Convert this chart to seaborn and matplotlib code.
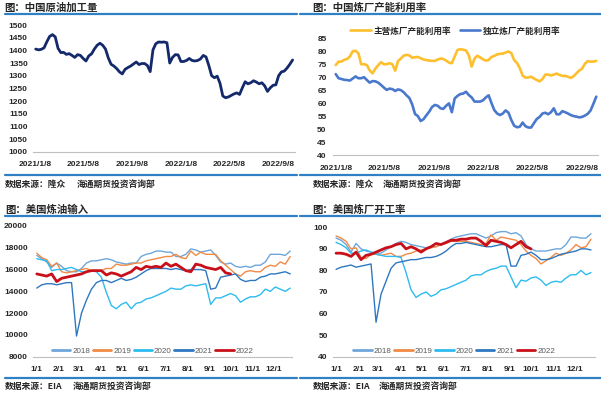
import seaborn as sns
import matplotlib.pyplot as plt
from matplotlib.lines import Line2D
import pandas as pd

# ---- China crude throughput (weekly, from 2021-01-08)
cn_start = "2021-01-08"
cn_runs = [1405, 1402, 1404, 1410, 1434, 1455, 1462, 1453, 1408, 1391,
           1392, 1384, 1387, 1380, 1372, 1383, 1380, 1368, 1358, 1378,
           1386, 1405, 1420, 1428, 1420, 1405, 1370, 1345, 1338, 1328,
           1315, 1307, 1325, 1332, 1338, 1346, 1354, 1344, 1348, 1348,
           1340, 1316, 1402, 1426, 1433, 1432, 1433, 1430, 1350, 1372,
           1383, 1382, 1356, 1356, 1360, 1368, 1360, 1358, 1360, 1366,
           1380, 1374, 1340, 1300, 1292, 1298, 1270, 1220, 1213, 1216,
           1222, 1228, 1232, 1226, 1252, 1276, 1268, 1272, 1280, 1275,
           1268, 1272, 1260, 1238, 1252, 1262, 1264, 1300, 1315, 1318,
           1330, 1345, 1362]

# ---- China refinery utilisation
main_util = [74.7, 76, 76, 76.7, 77, 78, 80, 80.2, 79.2, 75,
             75, 74.7, 72.6, 71.5, 73.3, 74.6, 75.8, 75, 75, 75.4,
             75, 72.5, 76.2, 77.2, 78.3, 78.6, 78.4, 77.5, 77.7, 77.8,
             77.3, 76.8, 76.6, 76.4, 76.3, 76.3, 76.8, 77.2, 77, 76.4,
             75.6, 75.4, 78, 80.5, 80.8, 80.6, 80.3, 78.4, 74.1, 77.2,
             78.3, 77.6, 76.9, 76.4, 76.6, 77.8, 78.2, 78.8, 79, 79.1,
             79.5, 79.9, 79.3, 76.6, 75.5, 73.5, 70.6, 69.8, 69.9, 70.2,
             69.5, 68.9, 68.4, 69.3, 71, 71, 70.7, 71, 71.4, 70.9,
             70.5, 70.5, 70.2, 69.7, 70.4, 71.5, 72.6, 73.3, 75.2, 76.2,
             76, 76, 76.3]
indep_util = [71.2, 69.6, 69.3, 69, 68.9, 68.7, 69.5, 70.3, 69.6, 69.6,
              70, 68.9, 67.9, 68.5, 68.4, 67.9, 67, 66, 65.1, 65.6,
              65.4, 64.7, 65.3, 65, 64.2, 63, 62, 59.5, 55.8, 55,
              53.1, 53.8, 55.3, 56.7, 58.5, 59.3, 59, 58, 57.8, 59,
              59.9, 56.5, 61.8, 62.8, 63.5, 63.7, 64.4, 63.1, 62.2, 60.6,
              60.6, 60.6, 61.1, 62.2, 63, 60, 57.3, 56, 55.4, 56,
              57.2, 56.3, 53.5, 51.3, 50.7, 50.9, 52.5, 51.1, 50.6, 50.6,
              52.3, 53.9, 54.7, 56, 56.3, 55.7, 56.5, 58, 55.7, 55.7,
              56.9, 56.5, 56, 55.4, 55, 54.8, 54.5, 54.7, 55.2, 55.9,
              57.2, 59.8, 62.5]
cn_ticks = ["2021-01-08", "2021-05-08", "2021-09-08", "2022-01-08", "2022-05-08", "2022-09-08"]

# ---- US refinery input (weekly, by year)
years = ["2018", "2019", "2020", "2021", "2022"]
us_input = {
    "2018": [17300, 17000, 16700, 16200, 16600, 16300, 15900, 15800, 15800, 16100,
             16600, 16800, 16800, 16900, 17000, 16900, 16700, 16600, 16500, 16600,
             16600, 17200, 17400, 17500, 17700, 17700, 17600, 17600, 17200, 17200,
             17400, 17900, 17800, 17600, 17700, 17800, 17300, 16700, 16500, 16600,
             16300, 16200, 16300, 16200, 16400, 16400, 16700, 17400, 17400, 17400,
             17300, 17700],
    "2019": [17500, 17100, 16900, 16300, 16600, 15800, 15700, 15800, 15900, 16000,
             16100, 15900, 15900, 15900, 16100, 16100, 16500, 16400, 16400, 16500,
             16600, 16600, 16800, 16900, 17000, 17100, 17200, 17200, 17400, 17100,
             17000, 17700, 17300, 17600, 17400, 17400, 17400, 16800, 16400, 16000,
             15600, 15400, 15800, 15900, 15800, 15800, 16200, 16400, 16300, 16700,
             16500, 17200],
    "2020": [17000, 16900, 16800, 15900, 16000, 16000, 16100, 16200, 16000, 15800,
             15800, 15900, 15800, 15300, 13900, 12700, 12400, 12800, 13000, 12400,
             12900, 13000, 13300, 13400, 13600, 13800, 14000, 14300, 14200, 14200,
             14500, 14600, 14500, 14600, 14700, 12800, 13400, 13400, 13600, 13800,
             13600, 13000, 13300, 13500, 13500, 13700, 14200, 14000, 14400, 14200,
             14000, 14300],
    "2021": [14300, 14600, 14700, 14700, 14600, 14700, 14800, 14800, 9900, 12000,
             13200, 14200, 14800, 15000, 15000, 14800, 15000, 15200, 15000, 15100,
             15300, 15600, 15900, 16100, 16100, 16100, 16100, 16000, 16100, 16000,
             15900, 16000, 16000, 16000, 15900, 14200, 14300, 15300, 15400, 15500,
             15600, 15100, 14900, 15000, 15000, 15300, 15400, 15600, 15600, 15700,
             15800, 15600],
    "2022": [15600, 15500, 15400, 15600, 14900, 15200, 15300, 15400, 15500, 15600,
             15800, 15900, 15900, 15900, 15500, 15700, 15600, 15400, 15600, 15800,
             16200, 16000, 16300, 16200, 16300, 16200, 16600, 16300, 16500, 16200,
             15900, 15800, 16500, 16400, 16200, 16100, 16000, 16200, 15700, 15600],
}

# ---- US refinery utilisation
us_util = {
    "2018": [95, 94, 92, 88.5, 92.5, 90, 89, 88.5, 88, 88,
             89.5, 91, 92.5, 93.5, 93, 92, 91.5, 91, 90.5, 91,
             91, 92, 93, 94.5, 95.5, 96, 96.5, 97, 97, 96,
             95, 96, 97.5, 98, 98, 97, 97.5, 96, 92, 90,
             89, 89, 89, 89.5, 90, 90, 92, 95.5, 95.5, 95,
             95, 97],
    "2019": [96, 95, 93.5, 90, 90.5, 86, 85.5, 87.5, 87.5, 87,
             87.5, 88, 86.5, 86.5, 87.5, 88, 89, 89.5, 90, 90.5,
             91, 92, 92.5, 93.5, 93.5, 93.5, 93.5, 93, 92.5, 92,
             92.5, 96.5, 94, 95.5, 95, 94.5, 94, 92, 89, 87,
             85.5, 83, 84.5, 86, 88, 87, 88, 89.5, 92, 90.5,
             91, 94.5],
    "2020": [93, 92, 90.5, 88, 88, 89, 89.5, 88.5, 87.5, 87,
             86.5, 86.5, 86.5, 86, 79, 71, 67.5, 69, 70, 68,
             69, 71, 71.5, 72.5, 73.5, 74.5, 75.5, 77.5, 78, 78,
             79.5, 80.5, 81, 82, 82, 77, 72, 75.5, 75, 76.5,
             77, 75.5, 73, 74.5, 75, 74.5, 76.5, 78, 78, 80,
             78, 79],
    "2021": [80.5, 81.5, 82, 82.5, 81.5, 82, 82.5, 83, 56, 69,
             75, 81, 83.5, 84, 84.5, 85, 85, 85.5, 86, 86,
             86.5, 87.5, 89, 91, 92.5, 92.5, 93, 92.5, 92, 91.5,
             91, 91, 91.5, 92, 92, 82, 82, 87, 87.5, 88.5,
             87, 85, 85, 85.5, 86.5, 87.5, 88, 88.5, 89, 90,
             90, 89.5],
    "2022": [88, 88, 87.5, 86.5, 88.5, 85, 87, 87.5, 88.5, 89.5,
             90.5, 91, 92, 92.5, 90, 91, 90, 88.5, 90, 91,
             92.5, 92, 93, 94, 94, 94.5, 94.5, 95, 95, 93.5,
             91.5, 94, 93.5, 93, 92, 90.5, 92, 93.5, 91, 90],
}
month_days = [0, 31, 59, 90, 120, 151, 181, 212, 243, 273, 304, 334]
month_labels = ["1/1", "2/1", "3/1", "4/1", "5/1", "6/1", "7/1", "8/1", "9/1", "10/1", "11/1", "12/1"]

year_colors = {"2018": "#6FA6DA", "2019": "#F08A45", "2020": "#2EBBF0", "2021": "#2E78C2", "2022": "#C8101A"}
year_widths = {"2018": 1.0, "2019": 1.0, "2020": 1.0, "2021": 1.0, "2022": 2.0}

sns.set_style("white")
plt.rcParams['font.family'] = ['Liberation Sans', 'Noto Sans CJK SC', 'DejaVu Sans']
CJK = ['Noto Sans CJK SC', 'DejaVu Sans']
W, H = 601, 393
HEAD = "#2F80C5"

fig = plt.figure(figsize=(6.01, 3.93), dpi=100)


def fx(px):
    return px / W


def fy(py):
    return 1 - py / H


def axes_px(left, top, right, bottom):
    return fig.add_axes([fx(left), fy(bottom), fx(right - left), (bottom - top) / H])


def style(ax, ypad):
    for s in ["top", "right", "left"]:
        ax.spines[s].set_visible(False)
    ax.spines["bottom"].set_color("#BFBFBF")
    ax.spines["bottom"].set_linewidth(0.8)
    ax.tick_params(axis="y", length=0, labelsize=6, pad=ypad)
    ax.tick_params(axis="x", length=2.5, width=0.6, color="#BFBFBF", labelsize=6, pad=4.5)
    for lab in ax.get_xticklabels() + ax.get_yticklabels():
        lab.set_fontweight("bold")
    ax.set_xlabel("")
    ax.set_ylabel("")
    ax.grid(False)


def header(x0, x1, tx, ty, ly, title):
    fig.text(fx(tx), fy(ty), title, family=CJK, fontsize=7.5, fontweight="bold", va="center", ha="left")
    fig.add_artist(Line2D([fx(x0), fx(x1)], [fy(ly), fy(ly)], color=HEAD, lw=1.6))


def footer(x0, x1, tx, ly, ty, src, tx2):
    fig.add_artist(Line2D([fx(x0), fx(x1)], [fy(ly), fy(ly)], color=HEAD, lw=1.6))
    fig.text(fx(tx), fy(ty), src, family=CJK, fontsize=6.3, fontweight="bold", va="center", ha="left")
    fig.text(fx(tx2), fy(ty), "海通期货投资咨询部", family=CJK, fontsize=6.3, fontweight="bold", va="center", ha="left")


cn_dates = pd.date_range(cn_start, periods=len(cn_runs), freq="7D")
tick_dates = pd.to_datetime(cn_ticks)
tick_text = [f"{d.year}/{d.month}/{d.day}" for d in tick_dates]

# ---- panel 1
ax1 = axes_px(33.3, 25, 295, 151.7)
sns.lineplot(x=cn_dates, y=cn_runs, ax=ax1, color="#14296B", linewidth=2.0)
ax1.set_ylim(1000, 1500)
ax1.set_yticks(range(1000, 1501, 50))
ax1.set_xlim(pd.Timestamp("2021-01-02"), pd.Timestamp("2022-10-20"))
ax1.set_xticks(tick_dates)
ax1.set_xticklabels(tick_text)
style(ax1, 4)
header(5, 297, 4, 8, 14, "图：中国原油加工量")
footer(5, 297, 5, 175, 184, "数据来源：隆众", 77)

# ---- panel 2
ax2 = axes_px(333.3, 38.3, 598.3, 155)
sns.lineplot(x=cn_dates, y=main_util, ax=ax2, color="#FDBF2D", linewidth=1.9, label="主营炼厂产能利用率")
sns.lineplot(x=cn_dates, y=indep_util, ax=ax2, color="#4A78CC", linewidth=1.9, label="独立炼厂产能利用率")
ax2.set_ylim(40, 85)
ax2.set_yticks(range(40, 86, 5))
ax2.set_xlim(pd.Timestamp("2021-01-02"), pd.Timestamp("2022-10-19"))
ax2.set_xticks(tick_dates)
ax2.set_xticklabels(tick_text)
style(ax2, 4.8)
ax2.legend(loc="center", bbox_to_anchor=(0.46, 1.0625), ncol=2, frameon=False,
           prop={"family": CJK, "size": 6.2, "weight": "bold"},
           handlelength=2.4, handletextpad=0.3, columnspacing=1.0)
header(300, 601, 312.7, 8, 14, "图：中国炼厂产能利用率")
footer(300, 601, 312.7, 175, 184, "数据来源：隆众", 382.7)

# ---- panels 3 and 4
week_ticks = [d / 7 for d in month_days]


def seasonal(ax, data):
    for yr in years:
        vals = data[yr]
        sns.lineplot(x=list(range(len(vals))), y=vals, ax=ax, color=year_colors[yr],
                     linewidth=year_widths[yr], label=yr)
    ax.set_xticks(week_ticks)
    ax.set_xticklabels(month_labels)
    ax.legend(loc="center", bbox_to_anchor=(0.462, 0.046), ncol=5, frameon=False,
              prop={"size": 5.8}, labelcolor="#595959",
              handlelength=2.3, handletextpad=0.25, columnspacing=0.3)
    for line in ax.get_legend().get_lines():
        line.set_linewidth(2.0)


ax3 = axes_px(33.3, 226, 291.7, 356.7)
seasonal(ax3, us_input)
ax3.set_ylim(8000, 20000)
ax3.set_yticks(range(8000, 20001, 2000))
ax3.set_xlim(-0.7, 51.3)
style(ax3, 4)
header(5, 297, 5, 210, 216, "图：美国炼油输入")
footer(5, 297, 5, 377.7, 386.7, "数据来源：EIA", 72.7)

ax4 = axes_px(333.3, 227.3, 595, 356.7)
seasonal(ax4, us_util)
ax4.set_ylim(40, 100)
ax4.set_yticks(range(40, 101, 10))
ax4.set_xlim(-0.55, 51.8)
style(ax4, 4)
header(300, 601, 312.7, 210, 216, "图：美国炼厂开工率")
footer(300, 601, 312.7, 377.7, 386.7, "数据来源：EIA", 378.3)

fig.savefig("out.png", dpi=100)
